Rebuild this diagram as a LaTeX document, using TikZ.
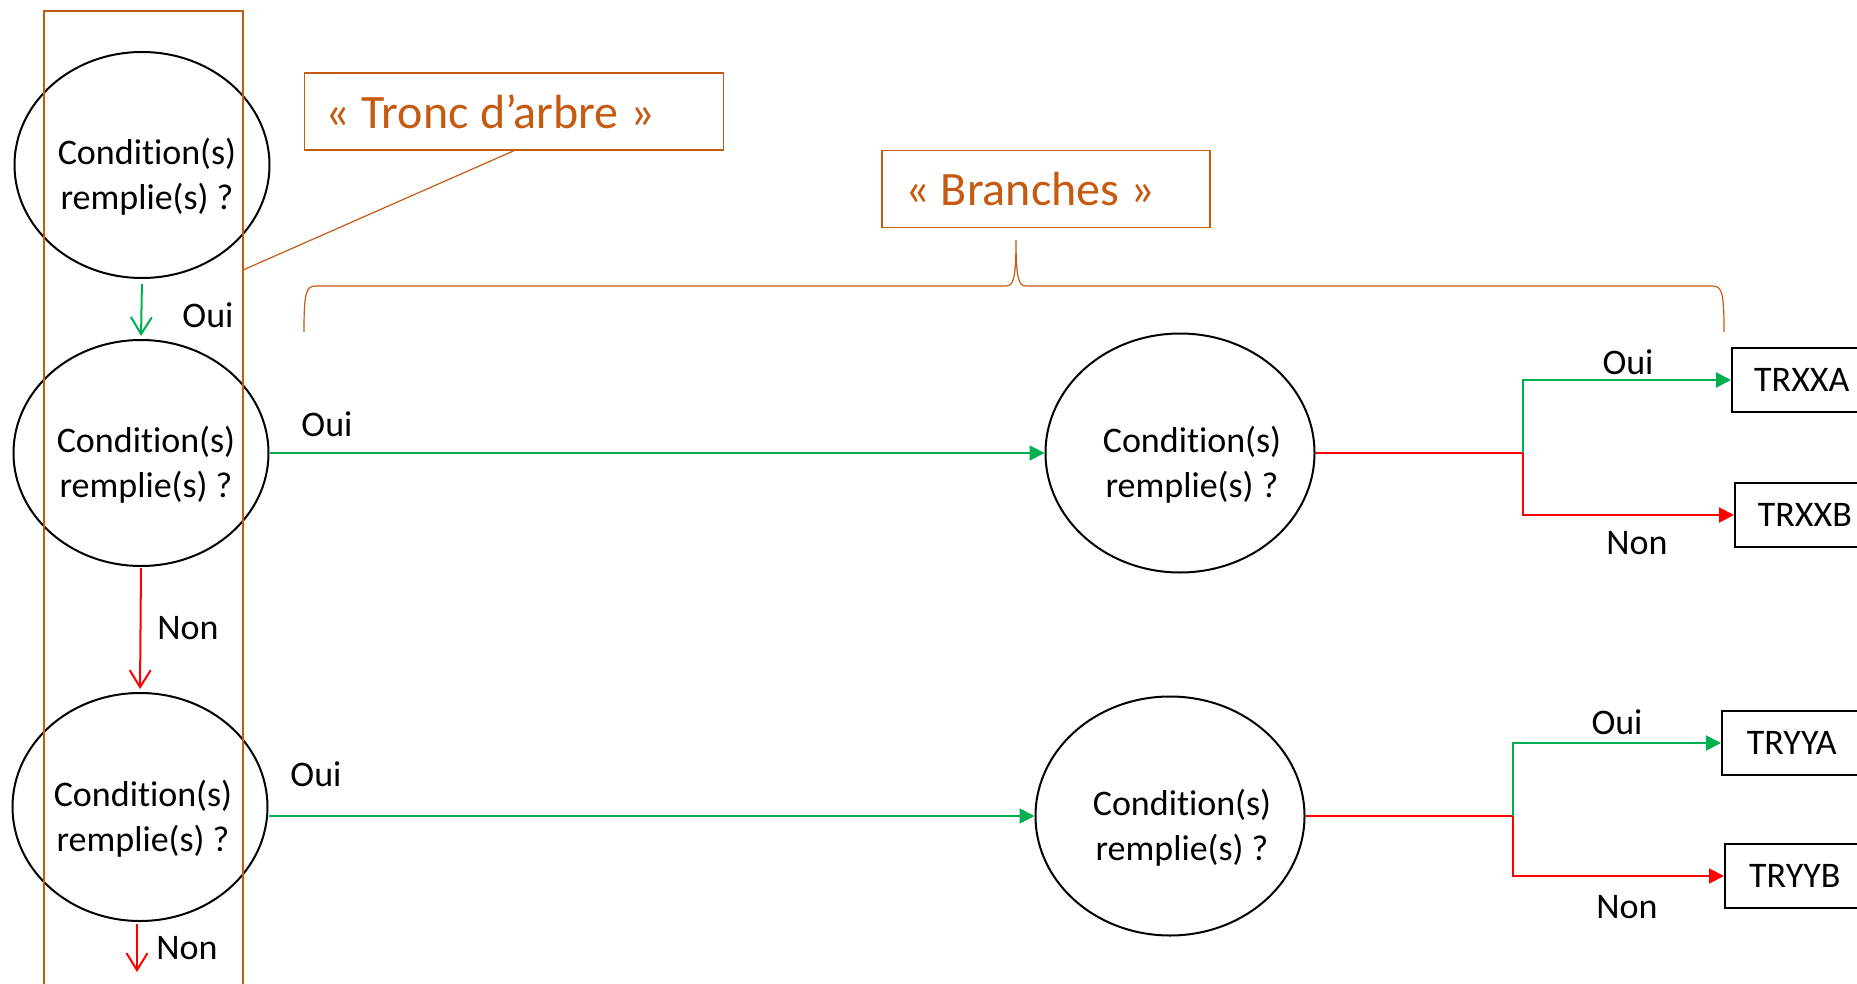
\documentclass[tikz,border=0pt]{standalone}
\usepackage{fontspec}
\setmainfont{Carlito}[Ligatures=NoCommon]
\usetikzlibrary{arrows.meta, shapes.geometric, positioning, calc}
\definecolor{trunkorange}{HTML}{C55A11}
\definecolor{ouigreen}{HTML}{00B050}
% text of a condition ellipse, pushed down and right by #1
\newcommand{\condtext}[1]{\rule{0pt}{25pt}\hspace*{#1}Condition(s)\\ \hspace*{#1}remplie(s) ?}

\begin{document}
\begin{tikzpicture}[
	x=0.5pt, y=-0.5pt,
	every node/.style={font=\fontsize{18}{22.5}\selectfont},
	cond/.style={
		ellipse, draw, line width=1pt, inner sep=-15pt, align=center,
		minimum width=127.5pt, minimum height=113pt
	},
	bigcond/.style={cond, minimum width=134.5pt, minimum height=119.5pt},
	result/.style={rectangle, draw, line width=0.8pt, anchor=west, minimum width=70pt, minimum height=32pt},
	callout/.style={
		rectangle, draw=trunkorange, line width=0.7pt, text=trunkorange,
		font=\fontsize{24}{28}\selectfont, execute at begin node={\spaceskip=5.7pt\relax},
		align=left, inner xsep=10.5pt, minimum height=38.5pt
	},
	trunk/.style={rectangle, draw=trunkorange, line width=1pt, inner sep=0pt, minimum width=99.5pt, minimum height=494.5pt},
	oui/.style={-{Triangle[length=7.5pt,width=7.5pt]}, ouigreen, line width=1pt},
	non/.style={-{Triangle[length=7.5pt,width=7.5pt]}, red, line width=1pt},
	ouidown/.style={-{Straight Barb[length=8.5pt,width=10.5pt]}, ouigreen, line width=1pt},
	nondown/.style={-{Straight Barb[length=8.5pt,width=10.5pt]}, red, line width=1pt}
	]
	\clip (0,0) rectangle (1857,984);
	
	% Nodes
	\node[cond] (c1) at (142,165) {\condtext{5pt}};
	\node[cond] (c2) at (141,453) {\condtext{5pt}};
	\node[cond, minimum height=114pt] (c3) at (140,807) {\condtext{3pt}};
	\node[bigcond] (b1) at (1180,453) {\condtext{12pt}};
	\node[bigcond] (b2) at (1170,816) {\condtext{12pt}};
	\node[trunk] (trunk) at (143.5,505.5) {};
	\node[callout, text width=188.5pt] (tronc) at (514,111.5) {« Tronc d’arbre »};
	\node[callout, text width=141pt, inner xsep=11.5pt] (branches) at (1046,189) {« Branches »};
	\node[result] (xxa) at (1731,380) {TRXXA};
	\node[result] (xxb) at (1734,515) {TRXXB};
	\node[result] (yya) at (1721,743) {TRYYA};
	\node[result] (yyb) at (1724,876) {TRYYB};
	\coordinate (j1) at (1523,453);
	\coordinate (j2) at (1513,816);
	\coordinate (tip) at (243,270);
	\coordinate (exit) at (137,972);
	
	% Trunk arrows
	\draw[ouidown, shorten <=2.5pt, shorten >=1.5pt] (c1.south) -- (c2.north);
	\node (oui1) at (208,315) {Oui};
	\draw[nondown, shorten <=0.5pt, shorten >=1.5pt] (c2.south) -- (c3.north);
	\node (non1) at (188,628) {Non};
	\draw[nondown, shorten <=1pt] (c3.south -| exit) -- (exit);
	\node (non2) at (187,948) {Non};
	
	% Branch arrows
	\draw[oui] (c2.east) -- (b1.west);
	\node (oui2) at (327,424) {Oui};
	\draw[oui] (c3.east |- b2.west) -- (b2.west);
	\node (oui3) at (316,774) {Oui};
	\draw[red, line width=1pt] (b1.east) -- (j1);
	\draw[oui] (j1) |- (xxa.west);
	\draw[non] (j1) |- (xxb.west);
	\node (oui4) at (1628,362) {Oui};
	\node (non3) at (1637,543) {Non};
	\draw[red, line width=1pt] (b2.east) -- (j2);
	\draw[oui] (j2) |- (yya.west);
	\draw[non] (j2) |- (yyb.west);
	\node (oui5) at (1617,722) {Oui};
	\node (non4) at (1627,907) {Non};
	
	% Callout line and brace
	\draw[trunkorange, line width=0.6pt] (tronc.south) -- (tip);
	\draw[trunkorange, line width=0.6pt] (304,332) .. controls (304,292) and (306,286) .. (316,286) -- (1006,286)
		.. controls (1013,286) and (1016,280) .. (1016,240) .. controls (1016,280) and (1019,286) .. (1026,286)
		-- (1712,286) .. controls (1722,286) and (1724,292) .. (1724,332);
\end{tikzpicture}
\end{document}
